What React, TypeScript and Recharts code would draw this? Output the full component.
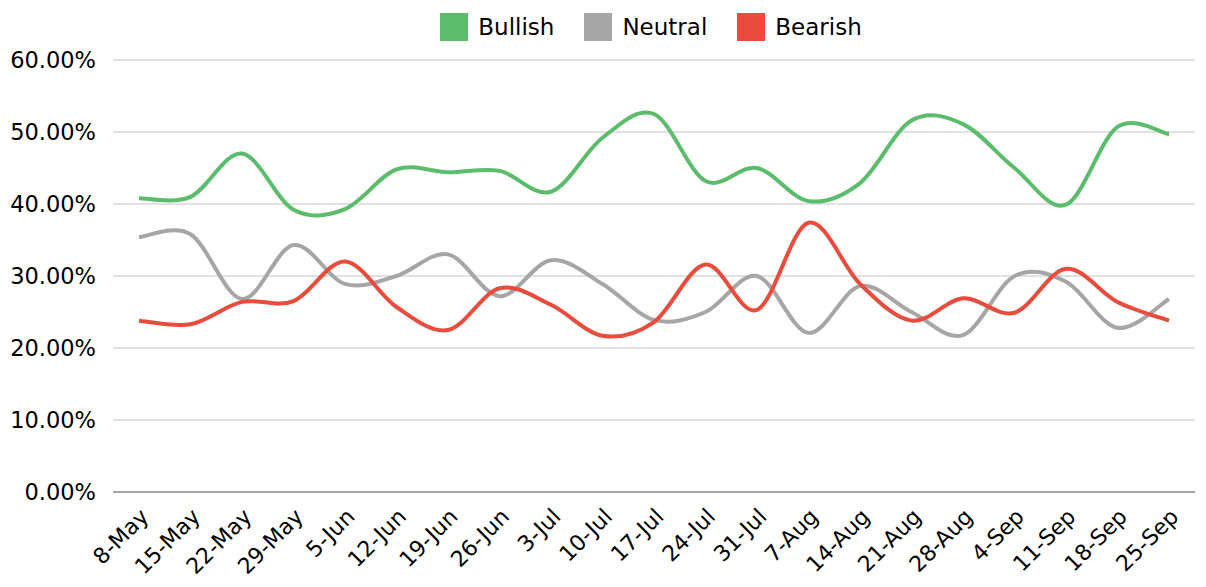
import React from 'react';
import { LineChart, Line, XAxis, YAxis, CartesianGrid, Legend } from 'recharts';

const dates = ['8-May', '15-May', '22-May', '29-May', '5-Jun', '12-Jun', '19-Jun', '26-Jun', '3-Jul', '10-Jul', '17-Jul', '24-Jul', '31-Jul', '7-Aug', '14-Aug', '21-Aug', '28-Aug', '4-Sep', '11-Sep', '18-Sep', '25-Sep'];
const bullish = [40.8, 41.0, 47.0, 39.2, 39.3, 44.8, 44.4, 44.6, 41.7, 49.2, 52.5, 43.2, 45.0, 40.4, 42.9, 51.6, 51.1, 45.0, 39.9, 50.7, 49.7];
const neutral = [35.4, 35.8, 26.8, 34.3, 28.9, 30.0, 33.0, 27.2, 32.2, 28.9, 23.9, 25.0, 30.0, 22.1, 28.6, 25.0, 21.8, 30.0, 29.2, 22.8, 26.8];
const bearish = [23.8, 23.3, 26.4, 26.5, 32.0, 25.7, 22.5, 28.3, 26.0, 21.7, 23.6, 31.6, 25.3, 37.4, 28.9, 23.8, 26.9, 24.9, 31.0, 26.4, 23.8];
const yTicks = [0, 10, 20, 30, 40, 50, 60];
const seriesNames = ['Bullish', 'Neutral', 'Bearish'];
const seriesColors = ['#5BBD6B', '#A6A6A6', '#E94B3C'];

const data = dates.map((d, i) => ({ date: d, Bullish: bullish[i], Neutral: neutral[i], Bearish: bearish[i] }));

const FONT = '"DejaVu Sans", sans-serif';

// Catmull-Rom style smoothing (like spreadsheet "smoothed line")
const smoothCurve: any = (context: any) => {
  let pts: number[][] = [];
  return {
    areaStart() {},
    areaEnd() {},
    lineStart() { pts = []; },
    point(x: number, y: number) { pts.push([+x, +y]); },
    lineEnd() {
      if (!pts.length) return;
      context.moveTo(pts[0][0], pts[0][1]);
      for (let i = 0; i < pts.length - 1; i++) {
        const p0 = pts[i - 1] || pts[i];
        const p1 = pts[i];
        const p2 = pts[i + 1];
        const p3 = pts[i + 2] || p2;
        const c1x = p1[0] + (p2[0] - p0[0]) / 6;
        const c1y = p1[1] + (p2[1] - p0[1]) / 6;
        const c2x = p2[0] - (p3[0] - p1[0]) / 6;
        const c2y = p2[1] - (p3[1] - p1[1]) / 6;
        context.bezierCurveTo(c1x, c1y, c2x, c2y, p2[0], p2[1]);
      }
    },
  };
};

const XTick = (props: any) => {
  const { x, y, payload } = props;
  return (
    <g transform={`translate(${x + 11},${y + 26})`}>
      <text x={0} y={0} textAnchor="end" transform="rotate(-45)" fontSize={22} fill="#000" fontFamily={FONT}>
        {payload.value}
      </text>
    </g>
  );
};

const LegendContent = () => (
  <div style={{ display: 'flex', justifyContent: 'center', alignItems: 'center', height: 38, paddingLeft: 96, fontFamily: FONT, fontSize: 23, color: '#000' }}>
    {seriesNames.map((n, i) => (
      <div key={n} style={{ display: 'flex', alignItems: 'center', marginRight: i < 2 ? 30 : 0 }}>
        <div style={{ width: 28, height: 28, background: seriesColors[i], marginRight: 10 }} />
        <span>{n}</span>
      </div>
    ))}
  </div>
);

export default function App() {
  return (
    <LineChart width={1190} height={579} data={data} margin={{ top: 14, right: 3, left: 0, bottom: 8 }}>
      <Legend verticalAlign="top" height={38} content={<LegendContent />} wrapperStyle={{ top: 0, left: 0, width: 1190 }} />
      <CartesianGrid horizontal vertical={false} stroke="#D9D9D9" strokeWidth={1.5} />
      <XAxis dataKey="date" interval={0} padding={{ left: 26, right: 26 }} axisLine={{ stroke: '#A6A6A6', strokeWidth: 2 }} tickLine={false} tickSize={0} tickMargin={0} height={87} tick={<XTick />} />
      <YAxis domain={[0, 60]} ticks={yTicks} width={105} axisLine={false} tickLine={false} tickSize={0} tickMargin={17} tickFormatter={(v: number) => v.toFixed(2) + '%'} tick={{ fontSize: 22.5, fill: '#000', fontFamily: FONT }} />
      {seriesNames.map((n, i) => (
        <Line key={n} dataKey={n} type={smoothCurve} stroke={seriesColors[i]} strokeWidth={4} dot={false} activeDot={false} isAnimationActive={false} />
      ))}
    </LineChart>
  );
}
